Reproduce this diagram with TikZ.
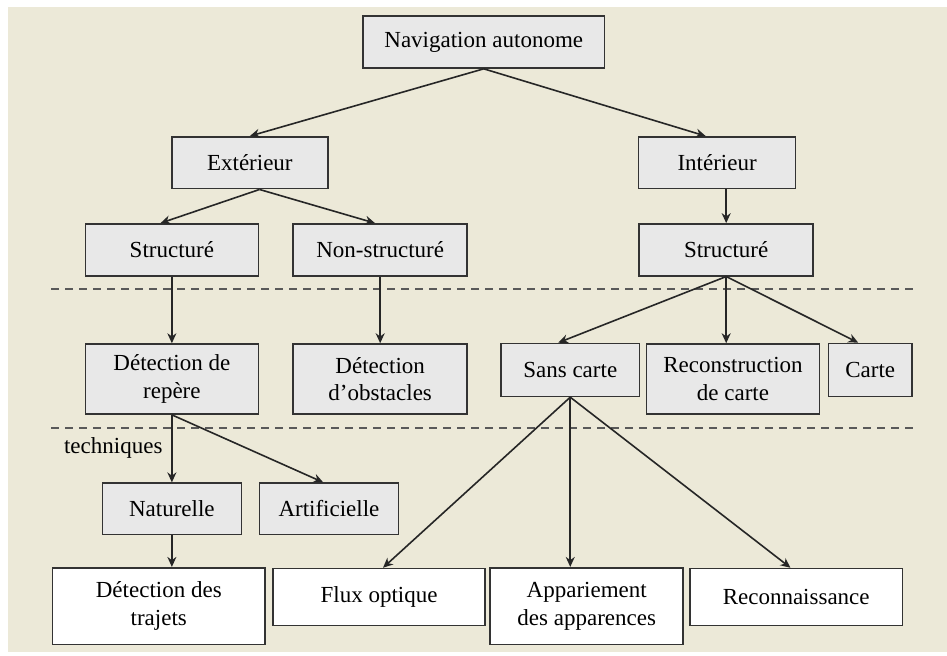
\documentclass[tikz,border=0pt]{standalone}
\usepackage{fontspec}
\setmainfont{Liberation Serif}
\usetikzlibrary{positioning, arrows.meta}
\definecolor{fond}{RGB}{236,233,216}
\definecolor{boite}{RGB}{232,232,232}

\begin{document}
\begin{tikzpicture}[
    font=\fontsize{11.5}{13.8}\selectfont,
    on grid,
    box/.style={draw=black!80, line width=0.8pt, fill=boite, align=center, inner sep=2pt, minimum height=0.91cm},
    leaf/.style={box, fill=white},
    fleche/.style={-{Stealth[length=5pt, width=4.5pt]}, line width=0.8pt, black!85},
    sepline/.style={dash pattern=on 4pt off 3pt, line width=1.2pt, black!65}
  ]
  \useasboundingbox (0,0) rectangle (16.64,-11.51);
  \fill[fond] (0.14,-0.12) rectangle (16.64,-11.46);
  \draw[sepline] (0.90,-5.08) -- (16.11,-5.08);
  \draw[sepline] (0.90,-7.52) -- (16.11,-7.52);

  \node[box, minimum width=4.25cm] (nav) at (8.50,-0.74) {Navigation autonome};
  \node[box, minimum width=2.74cm, below left=2.12cm and 4.11cm of nav] (ext) {Extérieur};
  \node[box, minimum width=2.76cm, below right=2.12cm and 4.10cm of nav] (int) {Intérieur};
  \node[box, minimum width=3.04cm, below left=1.53cm and 1.37cm of ext] (strL) {Structuré};
  \node[box, minimum width=3.06cm, below right=1.53cm and 2.29cm of ext] (nonS) {Non-structuré};
  \node[box, minimum width=3.06cm, below right=1.53cm and 0.16cm of int] (strR) {Structuré};
  \node[box, minimum width=3.04cm, minimum height=1.23cm, below=2.27cm of strL] (detR) {Détection de\\repère};
  \node[box, minimum width=3.06cm, minimum height=1.23cm, below=2.27cm of nonS] (detO) {Détection\\d’obstacles};
  \node[box, minimum width=2.44cm, minimum height=0.93cm, below left=2.11cm and 2.74cm of strR] (sans) {Sans carte};
  \node[box, minimum width=3.04cm, minimum height=1.23cm, below right=2.27cm and 0.12cm of strR] (recon) {Reconstruction\\de carte};
  \node[box, minimum width=1.46cm, minimum height=0.93cm, below right=2.11cm and 2.53cm of strR] (carte) {Carte};
  \node (tech) at (1.99,-7.87) {techniques};
  \node[box, minimum width=2.44cm, minimum height=0.90cm, below=2.28cm of detR] (nat) {Naturelle};
  \node[box, minimum width=2.44cm, minimum height=0.90cm, below right=2.28cm and 2.76cm of detR] (art) {Artificielle};
  \node[leaf, minimum width=3.74cm, minimum height=1.35cm, below left=1.71cm and 0.23cm of nat] (traj) {Détection des\\trajets};
  \node[leaf, minimum width=3.73cm, minimum height=1.0cm, below left=3.99cm and 3.36cm of sans] (flux) {Flux optique};
  \node[leaf, minimum width=3.39cm, minimum height=1.35cm, below right=4.15cm and 0.29cm of sans] (appar) {Appariement\\des apparences};
  \node[leaf, minimum width=3.73cm, minimum height=1.0cm, below right=3.99cm and 3.97cm of sans] (reco) {Reconnaissance};

  \draw[fleche] (nav.south) -- (ext.north);
  \draw[fleche] (nav.south) -- ([xshift=-0.2cm]int.north);
  \draw[fleche] ([xshift=0.17cm]ext.south) -- ([xshift=-0.2cm]strL.north);
  \draw[fleche] ([xshift=0.17cm]ext.south) -- ([xshift=-0.09cm]nonS.north);
  \draw[fleche] (int.south -| strR.north) -- (strR.north);
  \draw[fleche] (strR.south) -- ([xshift=-0.21cm]sans.north);
  \draw[fleche] (strR.south) -- (strR.south |- recon.north);
  \draw[fleche] (strR.south) -- ([xshift=-0.21cm]carte.north);
  \draw[fleche] (strL.south) -- (detR.north);
  \draw[fleche] (nonS.south) -- (detO.north);
  \draw[fleche] (detR.south) -- (nat.north);
  \draw[fleche] (detR.south) -- ([xshift=-0.1cm]art.north);
  \draw[fleche] (nat.south) -- (nat.south |- traj.north);
  \draw[fleche] (sans.south) -- ([xshift=0.07cm]flux.north);
  \draw[fleche] (sans.south) -- (sans.south |- appar.north);
  \draw[fleche] (sans.south) -- ([xshift=-0.1cm]reco.north);
\end{tikzpicture}
\end{document}
